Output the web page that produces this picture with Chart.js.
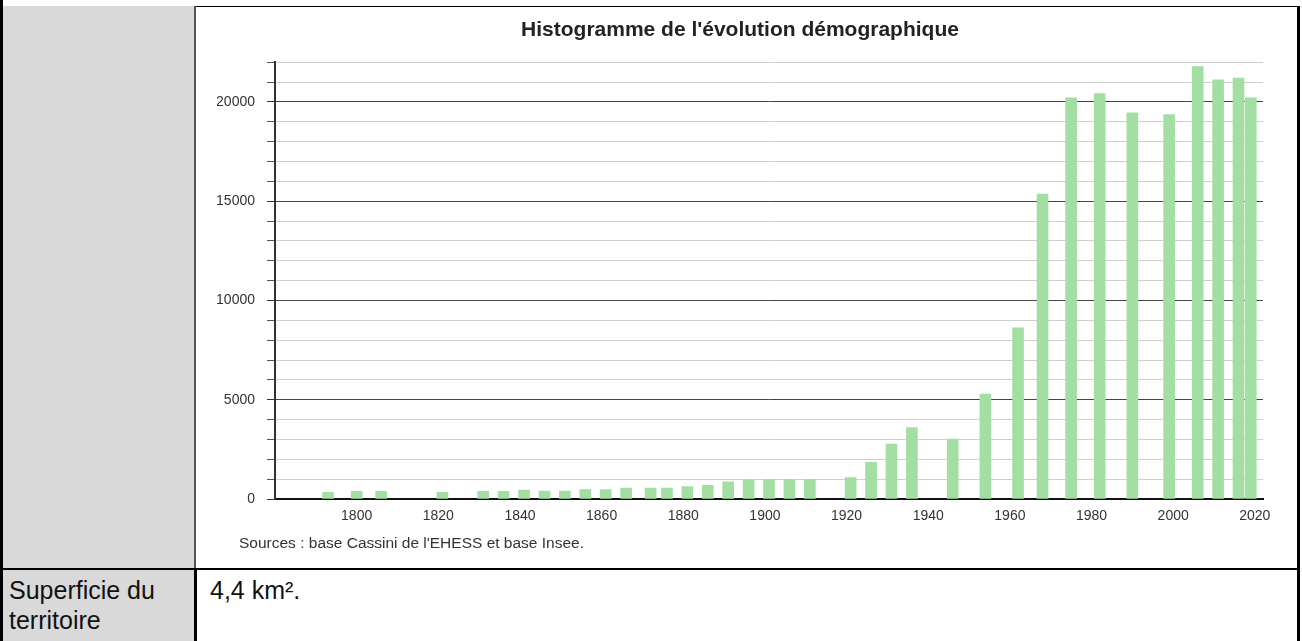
<!DOCTYPE html>
<html>
<head>
<meta charset="utf-8">
<script src="https://cdn.jsdelivr.net/npm/chart.js@4"></script>
<style>
  body { margin: 0; background: #fff; font-family: 'Liberation Sans', Arial, sans-serif; }
  #page { position: relative; width: 1302px; height: 641px; overflow: hidden; }
  .box { position: absolute; }
  .gray { background: #d9d9d9; }
  .txt { position: absolute; color: #111; font-size: 25px; line-height: 30px; }
</style>
</head>
<body>
<div id="page">
  <!-- row 1 -->
  <div class="box gray" style="left:0;top:6px;width:194px;height:563px;"></div>
  <div class="box" style="left:0;top:0;width:3px;height:641px;background:#000;"></div>
  <div class="box" style="left:194px;top:6px;width:2px;height:563px;background:#555;"></div>
  <div class="box" style="left:196px;top:6px;width:1104px;height:1px;background:#000;"></div>
  <div class="box" style="left:1297px;top:6px;width:3px;height:635px;background:#000;"></div>
  <div class="box" style="left:197px;top:8px;width:1089px;height:530px;">
    <canvas id="demoChart"></canvas>
  </div>
  <div class="box" style="left:239px;top:534px;font-size:15.5px;color:#333;">Sources : base Cassini de l'EHESS et base Insee.</div>

  <!-- row 2 -->
  <div class="box" style="left:0;top:568px;width:1300px;height:2px;background:#000;"></div>
  <div class="box gray" style="left:3px;top:570px;width:191px;height:71px;"></div>
  <div class="box" style="left:194px;top:570px;width:3px;height:71px;background:#000;"></div>
  <div class="txt" style="left:9px;top:575px;">Superficie du<br>territoire</div>
  <div class="txt" style="left:210px;top:575px;">4,4 km².</div>
</div>

<script>
const years = [1793, 1800, 1806, 1821, 1831, 1836, 1841, 1846, 1851, 1856,
               1861, 1866, 1872, 1876, 1881, 1886, 1891, 1896, 1901, 1906,
               1911, 1921, 1926, 1931, 1936, 1946, 1954, 1962, 1968, 1975,
               1982, 1990, 1999, 2006, 2011, 2016, 2019];
const population = [340, 390, 390, 340, 390, 390, 455, 400, 400, 470,
                    470, 556, 556, 556, 621, 692, 859, 960, 995, 995,
                    995, 1076, 1853, 2763, 3601, 3015, 5288, 8621, 15354, 20200,
                    20420, 19444, 19360, 21783, 21111, 21196, 20202];
const yearTicks = [1800, 1820, 1840, 1860, 1880, 1900, 1920, 1940, 1960, 1980, 2000, 2020];

const font = "'Liberation Sans', Arial, sans-serif";

document.addEventListener('DOMContentLoaded', () => {
    const ctx = document.getElementById('demoChart');
    const points = years.map((y, i) => ({ x: y, y: population[i] }));

    new Chart(ctx, {
        type: 'bar',
        data: {
            datasets: [{
                data: points,
                backgroundColor: '#a3dea3',
                borderWidth: 0,
                barThickness: 11
            }]
        },
        options: {
            responsive: true,
            maintainAspectRatio: false,
            animation: false,
            layout: { padding: { left: 20, right: 23, top: 0, bottom: 0 } },
            plugins: {
                legend: { display: false },
                tooltip: { enabled: false },
                title: {
                    display: true,
                    text: "Histogramme de l'évolution démographique",
                    color: '#222',
                    font: { family: font, size: 21, weight: 'bold' },
                    padding: { top: 10, bottom: 19 }
                }
            },
            scales: {
                x: {
                    type: 'linear',
                    min: 1780,
                    max: 2022,
                    offset: false,
                    afterBuildTicks: (scale) => {
                        scale.ticks = yearTicks.map(v => ({ value: v }));
                    },
                    afterFit: (scale) => { scale.height = 39; },
                    grid: { display: false },
                    border: { display: true, color: '#111', width: 2 },
                    ticks: {
                        color: '#333',
                        padding: 1,
                        maxRotation: 0,
                        font: { family: font, size: 14 },
                        callback: (v) => String(v)
                    }
                },
                y: {
                    min: 0,
                    max: 22000,
                    afterFit: (scale) => { scale.width = 58; },
                    grid: {
                        color: (c) => (c.tick && c.tick.value % 5000 === 0) ? '#444' : '#cfcfcf',
                        tickColor: (c) => (c.tick && c.tick.value % 5000 === 0) ? '#333' : '#555',
                        tickLength: 8,
                        lineWidth: 1
                    },
                    border: { display: true, color: '#333', width: 2 },
                    ticks: {
                        stepSize: 1000,
                        color: '#333',
                        padding: 12,
                        font: { family: font, size: 14 },
                        callback: (v) => (v % 5000 === 0 && v <= 20000) ? String(v) : ''
                    }
                }
            }
        }
    });
});
</script>
</body>
</html>
